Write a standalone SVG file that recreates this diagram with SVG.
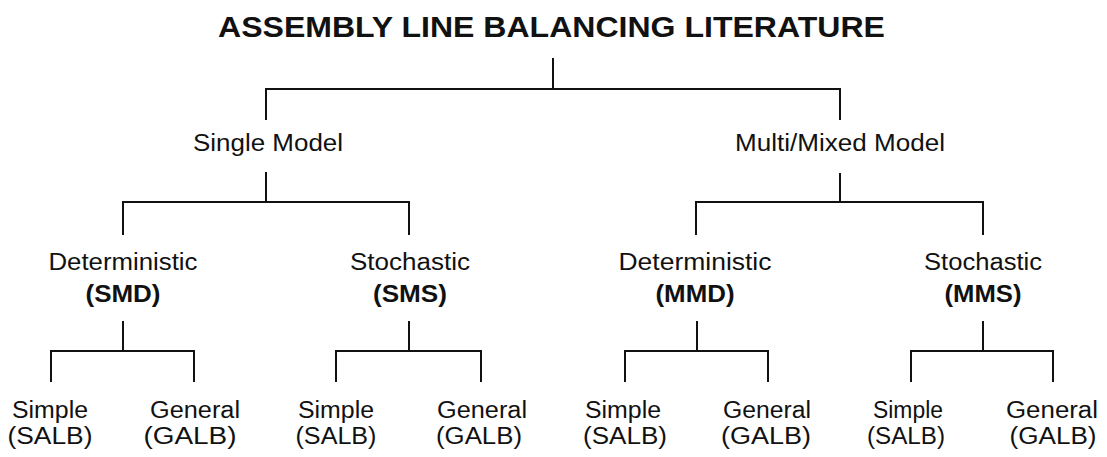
<svg xmlns="http://www.w3.org/2000/svg" width="1107" height="457" viewBox="0 0 1107 457">
  <style>
    text { font-family: "Liberation Sans", Arial, sans-serif; fill: #111; text-anchor: middle; }
    .title { font-size: 29px; font-weight: bold; }
    .lbl { font-size: 23px; }
    .code { font-size: 23px; font-weight: bold; }
    .links line { stroke: #111; stroke-width: 2; stroke-linecap: square; }
  </style>
  <rect width="1107" height="457" fill="#fff"/>

  <!-- heading -->
  <g id="root">
    <text class="title" x="551.5" y="37" textLength="667" lengthAdjust="spacingAndGlyphs">ASSEMBLY LINE BALANCING LITERATURE</text>
  </g>

  <!-- tree connectors -->
  <g id="connectors" class="links">
    <!-- root to model type -->
    <line x1="553" y1="59" x2="553" y2="89"/>
    <line x1="266" y1="89" x2="840" y2="89"/>
    <line x1="266" y1="89" x2="266" y2="119"/>
    <line x1="840" y1="89" x2="840" y2="119"/>

    <!-- single model branch -->
    <line x1="266" y1="173" x2="266" y2="202"/>
    <line x1="123" y1="202" x2="409" y2="202"/>
    <line x1="123" y1="202" x2="123" y2="234"/>
    <line x1="409" y1="202" x2="409" y2="234"/>

    <!-- multi/mixed model branch -->
    <line x1="840" y1="174" x2="840" y2="202"/>
    <line x1="696" y1="202" x2="983" y2="202"/>
    <line x1="696" y1="202" x2="696" y2="234"/>
    <line x1="983" y1="202" x2="983" y2="234"/>

    <!-- SMD -->
    <line x1="123" y1="322" x2="123" y2="351"/>
    <line x1="51" y1="351" x2="194" y2="351"/>
    <line x1="51" y1="351" x2="51" y2="381"/>
    <line x1="194" y1="351" x2="194" y2="381"/>

    <!-- SMS -->
    <line x1="409" y1="322" x2="409" y2="351"/>
    <line x1="336" y1="351" x2="481" y2="351"/>
    <line x1="336" y1="351" x2="336" y2="381"/>
    <line x1="481" y1="351" x2="481" y2="381"/>

    <!-- MMD -->
    <line x1="697" y1="322" x2="697" y2="351"/>
    <line x1="625" y1="351" x2="768" y2="351"/>
    <line x1="625" y1="351" x2="625" y2="381"/>
    <line x1="768" y1="351" x2="768" y2="381"/>

    <!-- MMS -->
    <line x1="983" y1="322" x2="983" y2="351"/>
    <line x1="911" y1="351" x2="1053" y2="351"/>
    <line x1="911" y1="351" x2="911" y2="381"/>
    <line x1="1053" y1="351" x2="1053" y2="381"/>
  </g>

  <!-- model type -->
  <g id="single-model">
    <text class="lbl" x="268" y="151" textLength="150" lengthAdjust="spacingAndGlyphs">Single Model</text>
  </g>
  <g id="multi-model">
    <text class="lbl" x="840" y="151" textLength="210" lengthAdjust="spacingAndGlyphs">Multi/Mixed Model</text>
  </g>

  <!-- task time nature -->
  <g id="smd">
    <text class="lbl" x="123" y="270" textLength="149" lengthAdjust="spacingAndGlyphs">Deterministic</text>
    <text class="code" x="123" y="302" textLength="75" lengthAdjust="spacingAndGlyphs">(SMD)</text>
  </g>
  <g id="sms">
    <text class="lbl" x="410" y="270" textLength="120" lengthAdjust="spacingAndGlyphs">Stochastic</text>
    <text class="code" x="410" y="302" textLength="74" lengthAdjust="spacingAndGlyphs">(SMS)</text>
  </g>
  <g id="mmd">
    <text class="lbl" x="695" y="270" textLength="153" lengthAdjust="spacingAndGlyphs">Deterministic</text>
    <text class="code" x="695" y="302" textLength="79" lengthAdjust="spacingAndGlyphs">(MMD)</text>
  </g>
  <g id="mms">
    <text class="lbl" x="983" y="270" textLength="118" lengthAdjust="spacingAndGlyphs">Stochastic</text>
    <text class="code" x="983" y="302" textLength="77" lengthAdjust="spacingAndGlyphs">(MMS)</text>
  </g>

  <!-- problem classes -->
  <g id="smd-salb">
    <text class="lbl" x="50" y="418" textLength="76" lengthAdjust="spacingAndGlyphs">Simple</text>
    <text class="lbl" x="50" y="444" textLength="85" lengthAdjust="spacingAndGlyphs">(SALB)</text>
  </g>
  <g id="smd-galb">
    <text class="lbl" x="195" y="418" textLength="90" lengthAdjust="spacingAndGlyphs">General</text>
    <text class="lbl" x="190" y="444" textLength="93" lengthAdjust="spacingAndGlyphs">(GALB)</text>
  </g>
  <g id="sms-salb">
    <text class="lbl" x="336" y="418" textLength="76" lengthAdjust="spacingAndGlyphs">Simple</text>
    <text class="lbl" x="336" y="444" textLength="81" lengthAdjust="spacingAndGlyphs">(SALB)</text>
  </g>
  <g id="sms-galb">
    <text class="lbl" x="482" y="418" textLength="90" lengthAdjust="spacingAndGlyphs">General</text>
    <text class="lbl" x="479" y="444" textLength="86" lengthAdjust="spacingAndGlyphs">(GALB)</text>
  </g>
  <g id="mmd-salb">
    <text class="lbl" x="623" y="418" textLength="76" lengthAdjust="spacingAndGlyphs">Simple</text>
    <text class="lbl" x="625" y="444" textLength="84" lengthAdjust="spacingAndGlyphs">(SALB)</text>
  </g>
  <g id="mmd-galb">
    <text class="lbl" x="767" y="418" textLength="88" lengthAdjust="spacingAndGlyphs">General</text>
    <text class="lbl" x="766" y="444" textLength="90" lengthAdjust="spacingAndGlyphs">(GALB)</text>
  </g>
  <g id="mms-salb">
    <text class="lbl" x="908" y="418" textLength="70" lengthAdjust="spacingAndGlyphs">Simple</text>
    <text class="lbl" x="906" y="444" textLength="78" lengthAdjust="spacingAndGlyphs">(SALB)</text>
  </g>
  <g id="mms-galb">
    <text class="lbl" x="1052" y="418" textLength="92" lengthAdjust="spacingAndGlyphs">General</text>
    <text class="lbl" x="1053" y="444" textLength="87" lengthAdjust="spacingAndGlyphs">(GALB)</text>
  </g>
</svg>
